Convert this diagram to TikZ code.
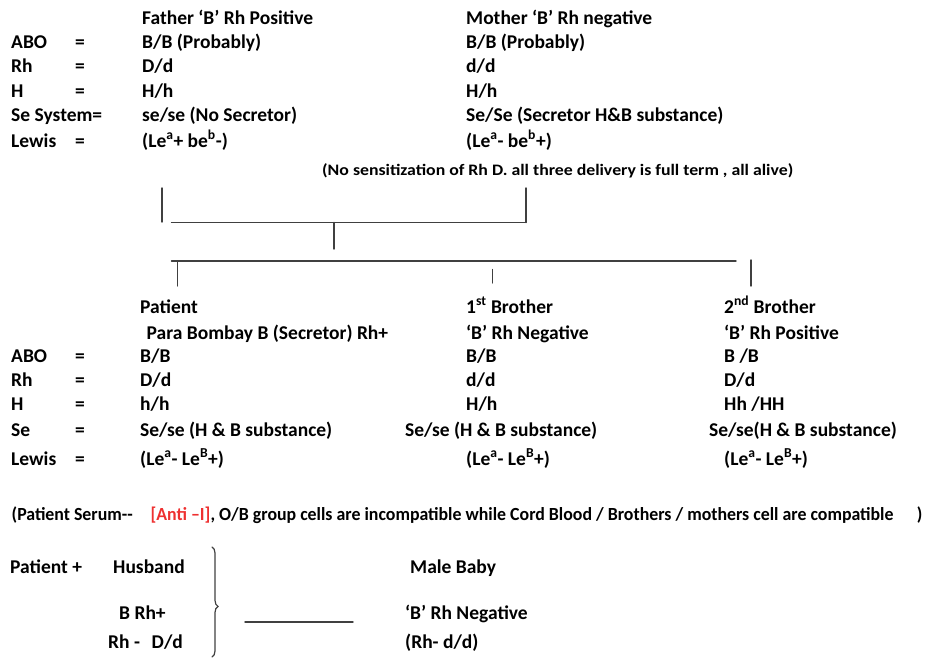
\documentclass[tikz,border=0pt]{standalone}
\usepackage{fontspec}
\setmainfont{Carlito}
\usetikzlibrary{decorations.pathreplacing}
\definecolor{antired}{RGB}{238,48,48}
\begin{document}
\begin{tikzpicture}[x=1pt, y=-1pt, line cap=round,
        txt/.style={anchor=base west, inner sep=0pt, font=\fontsize{19.5}{23}\selectfont\bfseries},
        note/.style={anchor=base west, inner sep=0pt, font=\fontsize{16}{18}\selectfont\bfseries},
        link/.style={line width=1.4pt, black!75}]
        \useasboundingbox (0,0) rectangle (925,659);

        \node[txt] (father) at (142,24) {Father ‘B’ Rh Positive};
        \node[txt] (mother) at (466,24) {Mother ‘B’ Rh negative};
        \foreach \lab/\y [count=\i] in {ABO/48, Rh/72.5, H/97, Lewis/147}
                \node[txt] (pl\i) at (11,\y) {\lab};
        \foreach \y [count=\i] in {48, 72.5, 97, 147}
                \node[txt] (pe\i) at (75,\y) {=};
        \node[txt] (pse) at (11,121.5) {Se System=};
        \node[txt] (f1) at (142,48) {B/B (Probably)};
        \node[txt] (f2) at (142,72.5) {D/d};
        \node[txt] (f3) at (142,97) {H/h};
        \node[txt] (f4) at (142,121.5) {se/se (No Secretor)};
        \node[txt] (f5) at (142,147) {(Le\textsuperscript{a}+ be\textsuperscript{b}-)};
        \node[txt] (m1) at (466,48) {B/B (Probably)};
        \node[txt] (m2) at (466,72.5) {d/d};
        \node[txt] (m3) at (466,97) {H/h};
        \node[txt] (m4) at (466,121.5) {Se/Se (Secretor H\&B substance)};
        \node[txt] (m5) at (466,147) {(Le\textsuperscript{a}- be\textsuperscript{b}+)};
        \node[note] (history) at (322,175) {\resizebox{471pt}{\height}{(No sensitization of Rh D. all three delivery is full term , all alive)}};

        \coordinate (F) at (162,188);
        \coordinate (F') at (162,222);
        \coordinate (M) at (526,188);
        \coordinate (M') at (526,222.5);
        \coordinate (J) at (334,222.5);
        \coordinate (J') at (334,249);
        \coordinate (S) at (171.5,222.5);
        \coordinate (C) at (171.5,261);
        \coordinate (C') at (736,261);
        \coordinate (P) at (177.5,261);
        \coordinate (P') at (177.5,286);
        \coordinate (B1) at (492.5,269.5);
        \coordinate (B1') at (492.5,283);
        \coordinate (B2) at (751,260);
        \coordinate (B2') at (751,286);

        \draw[link] (F)--(F') (M)--(M') (J)--(J') (P)--(P') (B1)--(B1') (B2)--(B2');
        \draw[link] (S)--(M') (C)--(C');

        \node[txt] (patient) at (140,313) {Patient};
        \node[txt] (parabombay) at (146.5,339) {Para Bombay B (Secretor) Rh+};
        \node[txt] (bro1) at (466,313) {1\textsuperscript{st} Brother};
        \node[txt] (bro1t) at (466,339) {‘B’ Rh Negative};
        \node[txt] (bro2) at (724,313) {2\textsuperscript{nd} Brother};
        \node[txt] (bro2t) at (724,339) {‘B’ Rh Positive};
        \foreach \lab/\y [count=\i] in {ABO/362.5, Rh/386.5, H/410.5, Se/436, Lewis/465}
                \node[txt] (cl\i) at (11,\y) {\lab};
        \foreach \y [count=\i] in {362.5, 386.5, 410.5, 436, 465}
                \node[txt] (ce\i) at (75,\y) {=};
        \node[txt] (p1) at (140,362.5) {B/B};
        \node[txt] (p2) at (140,386.5) {D/d};
        \node[txt] (p3) at (140,410.5) {h/h};
        \node[txt] (p4) at (140,436) {Se/se (H \& B substance)};
        \node[txt] (p5) at (140,465) {(Le\textsuperscript{a}- Le\textsuperscript{B}+)};
        \node[txt] (a1) at (466,362.5) {B/B};
        \node[txt] (a2) at (466,386.5) {d/d};
        \node[txt] (a3) at (466,410.5) {H/h};
        \node[txt] (a4) at (405,436) {Se/se (H \& B substance)};
        \node[txt] (a5) at (466,465) {(Le\textsuperscript{a}- Le\textsuperscript{B}+)};
        \node[txt] (b1) at (724,362.5) {B /B};
        \node[txt] (b2) at (724,386.5) {D/d};
        \node[txt] (b3) at (724,410.5) {Hh /HH};
        \node[txt] (b4) at (709,436) {Se/se(H \& B substance)};
        \node[txt] (b5) at (724,465) {(Le\textsuperscript{a}- Le\textsuperscript{B}+)};

        \node[txt, font=\fontsize{18.5}{22}\selectfont\bfseries] (serum) at (11.5,520) {\resizebox{910.5pt}{\height}{(Patient Serum{-}{-}\hspace{1.0em}\textcolor{antired}{[Anti –I]}, O/B group cells are incompatible while Cord Blood / Brothers / mothers cell are compatible\hspace{1.3em})}};

        \node[txt] (couple) at (10,573) {Patient +};
        \node[txt] (husband) at (113,573) {Husband};
        \node[txt] (hus1) at (119,619) {B Rh+};
        \node[txt] (hus2) at (108,648) {Rh -\hspace{0.6em}D/d};
        \node[txt] (baby) at (410,573) {Male Baby};
        \node[txt] (baby1) at (405,619) {‘B’ Rh Negative};
        \node[txt] (baby2) at (405,648) {(Rh- d/d)};

        \coordinate (R) at (212,547);
        \coordinate (R') at (212,657);
        \coordinate (L) at (245,622);
        \coordinate (L') at (353,622);
        \draw[link, line width=1.2pt, decorate, decoration={brace, amplitude=6pt, aspect=0.54}] (R)--(R');
        \draw[link] (L)--(L');
\end{tikzpicture}
\end{document}
